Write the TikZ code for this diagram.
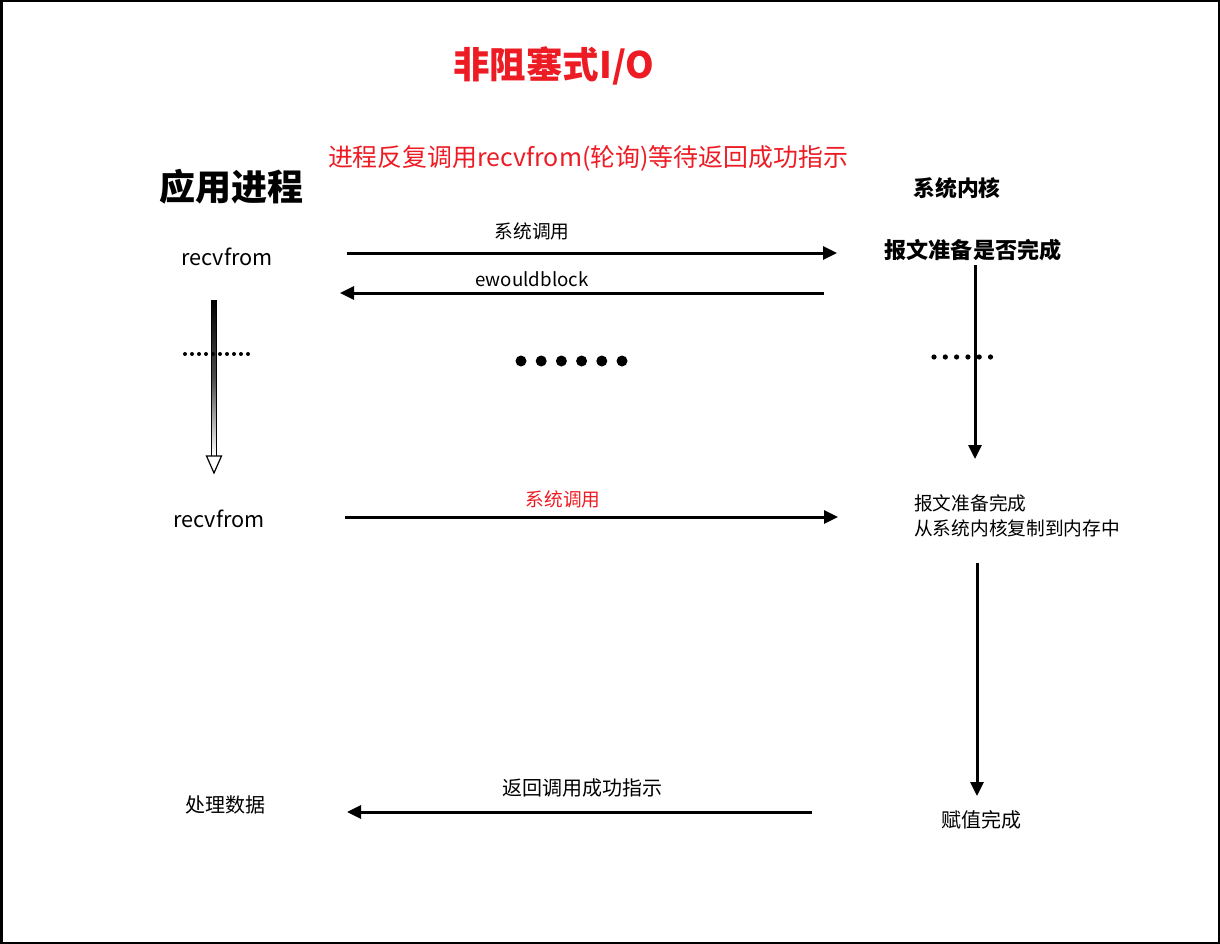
\documentclass[tikz,border=0pt]{standalone}
\usepackage{fontspec}
\setmainfont{Noto Sans CJK SC}
\usetikzlibrary{arrows.meta}
\definecolor{titlered}{HTML}{ED1C24}
\tikzset{
  conn/.style={line width=3pt,-{Triangle[length=14pt,width=13pt]}},
  lbl/.style={inner sep=0pt,font=\fontsize{18.7}{21}\selectfont},
  mid/.style={inner sep=0pt,font=\fontsize{20}{23}\selectfont},
  big/.style={inner sep=0pt,font=\fontsize{21.7}{24}\selectfont},
  boldlbl/.style={inner sep=0pt,font=\fontsize{21.8}{24}\selectfont\bfseries},
}
\begin{document}
\begin{tikzpicture}[x=1pt,y=-1pt]
\useasboundingbox (0,0) rectangle (1220,944);
\draw[line width=2.5pt] (1.25,1.25) rectangle (1218.75,942.75);
% titles
\node[inner sep=0pt,text=titlered,font=\fontsize{36.5}{40}\selectfont\bfseries] (title) at (554,66) {非阻塞式I/O};
\node[inner sep=0pt,text=titlered,font=\fontsize{24.9}{28}\selectfont] (sub) at (588,158) {进程反复调用recvfrom(轮询)等待返回成功指示};
\node[inner sep=0pt,font=\fontsize{36}{40}\selectfont\bfseries] (app) at (231,187) {应用进程};
\node[boldlbl] (kern) at (957,188) {系统内核};
% row 1
\node[big] (rf1) at (227,257) {recvfrom};
\node[lbl] (sc1) at (532,231) {系统调用};
\node[inner sep=0pt,font=\fontsize{22.1}{25}\selectfont\bfseries] (ready) at (973,250) {报文准备是否完成};
\node[lbl] (ewb) at (532,279) {ewouldblock};
\coordinate (a1s) at (347,253); \coordinate (a1e) at (837,253);
\draw[conn] (a1s) -- (a1e);
\coordinate (a2s) at (824,293); \coordinate (a2e) at (340,293);
\draw[conn] (a2s) -- (a2e);
% left hollow arrow
\shade[top color=black,bottom color=white,middle color=black!70,draw=black,line width=0.8pt]
  (211.5,300) -- (216.5,300) -- (216.5,456) -- (211.5,456) -- cycle;
\draw[fill=white,line width=1.2pt] (206.5,456) -- (221.5,456) -- (214,473) -- cycle;
\coordinate (hl) at (214,300);
% dotted lines
\foreach \i in {0,...,9} \fill (185+\i*7.0,354) circle (2pt);
\foreach \i in {0,...,5} \fill (521+\i*20.2,361) circle (5.5pt);
\foreach \i in {0,...,5} \fill (934+\i*11.3,357) circle (2.6pt);
% right vertical arrow 1
\coordinate (v1s) at (975,265); \coordinate (v1e) at (975,459);
\draw[conn] (v1s) -- (v1e);
% row 2
\node[big] (rf2) at (219,519) {recvfrom};
\node[lbl,text=titlered] (sc2) at (563,499) {系统调用};
\coordinate (a3s) at (345,517); \coordinate (a3e) at (838,517);
\draw[conn] (a3s) -- (a3e);
\node[lbl,anchor=west] (done1) at (914,503) {报文准备完成};
\node[lbl,anchor=west] (done2) at (914,528) {从系统内核复制到内存中};
% right vertical arrow 2
\coordinate (v2s) at (977,563); \coordinate (v2e) at (977,796);
\draw[conn] (v2s) -- (v2e);
% row 3
\node[mid] (proc) at (225,805) {处理数据};
\node[mid] (ret) at (582,788) {返回调用成功指示};
\node[mid] (assign) at (981,820) {赋值完成};
\coordinate (a4s) at (812,812); \coordinate (a4e) at (347,812);
\draw[conn] (a4s) -- (a4e);
\end{tikzpicture}
\end{document}
